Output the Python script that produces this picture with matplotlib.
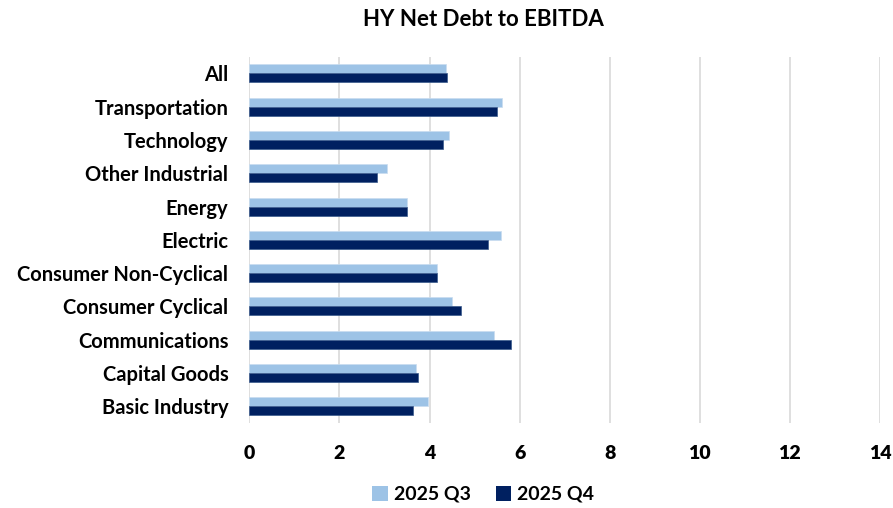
import matplotlib
matplotlib.use("Agg")
import matplotlib.pyplot as plt
import numpy as np
from matplotlib.patches import Patch

categories = ["All", "Transportation", "Technology", "Other Industrial", "Energy",
              "Electric", "Consumer Non-Cyclical", "Consumer Cyclical",
              "Communications", "Capital Goods", "Basic Industry"]
q3_values = [4.36, 5.62, 4.44, 3.06, 3.49, 5.59, 4.17, 4.51, 5.44, 3.71, 3.96]
q4_values = [4.39, 5.50, 4.29, 2.84, 3.49, 5.29, 4.17, 4.69, 5.81, 3.74, 3.64]
series_labels = ["2025 Q3", "2025 Q4"]
x_ticks = [0, 2, 4, 6, 8, 10, 12, 14]

c_q3 = "#9DC3E6"
c_q4 = "#002060"

plt.rcParams['font.family'] = ['Lato', 'DejaVu Sans']
plt.rcParams['font.weight'] = 'bold'

fig = plt.figure(figsize=(8.93, 5.08), dpi=100)
ax = fig.add_axes([0.2792, 0.1673, 0.7062, 0.7211])

y = np.arange(len(categories))
h = 0.27
ax.barh(y - h / 2, q3_values, height=h, color=c_q3, edgecolor="#C9DDF0", linewidth=0.5, zorder=3)
ax.barh(y + h / 2, q4_values, height=h, color=c_q4, edgecolor="#3A5A8C", linewidth=0.5, zorder=3)

ax.set_ylim(len(categories) - 0.5, -0.5)
ax.set_xlim(0, 14)
ax.set_xticks(x_ticks)
ax.set_xticklabels([str(t) for t in x_ticks], fontsize=14, fontweight='heavy')
ax.set_yticks(y)
ax.set_yticklabels(categories, fontsize=14.5, fontweight='bold')
ax.tick_params(axis='both', length=0)
ax.tick_params(axis='x', pad=16)
ax.tick_params(axis='y', pad=15)
ax.grid(axis='x', color="#D9D9D9", linewidth=1.2, zorder=0)
for s in ax.spines.values():
    s.set_visible(False)

fig.text(0.541, 0.961, "HY Net Debt to EBITDA", ha='center', va='center',
         fontsize=16, fontweight='bold')

handles = [Patch(facecolor=c_q3, label=series_labels[0]),
           Patch(facecolor=c_q4, label=series_labels[1])]
fig.legend(handles=handles, loc='center', bbox_to_anchor=(0.541, 0.027), ncol=2,
           frameon=False, prop={'size': 14, 'weight': 'bold'},
           handlelength=0.8, handleheight=0.8, handletextpad=0.3, columnspacing=1.3)

fig.savefig("out.png", dpi=100, facecolor="white")
